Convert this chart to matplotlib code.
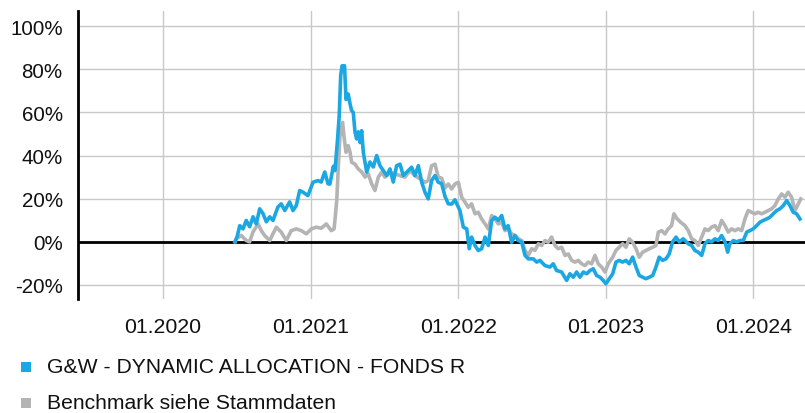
import matplotlib
matplotlib.use("Agg")
import matplotlib.pyplot as plt
from matplotlib.patches import Rectangle

plt.rcParams['font.family'] = ['Liberation Sans', 'DejaVu Sans']

fund_label = "G&W - DYNAMIC ALLOCATION - FONDS R"
bench_label = "Benchmark siehe Stammdaten"

# dates as decimal years, values in percent
fund_t = [2020.488, 2020.503, 2020.520, 2020.542, 2020.564, 2020.587, 2020.610, 2020.632, 2020.655, 2020.678,
          2020.700, 2020.723, 2020.745, 2020.779, 2020.801, 2020.825, 2020.858, 2020.881, 2020.903, 2020.926,
          2020.949, 2020.982, 2021.016, 2021.050, 2021.072, 2021.096, 2021.118, 2021.131, 2021.154, 2021.165,
          2021.181, 2021.194, 2021.204, 2021.213, 2021.230, 2021.240, 2021.255, 2021.267, 2021.278, 2021.289,
          2021.301, 2021.312, 2021.323, 2021.335, 2021.346, 2021.357, 2021.380, 2021.402, 2021.425, 2021.448,
          2021.470, 2021.493, 2021.516, 2021.538, 2021.560, 2021.583, 2021.606, 2021.628, 2021.651, 2021.685,
          2021.707, 2021.730, 2021.753, 2021.775, 2021.797, 2021.820, 2021.843, 2021.865, 2021.888, 2021.911,
          2021.933, 2021.956, 2021.978, 2022.012, 2022.035, 2022.058, 2022.075, 2022.091, 2022.114, 2022.136,
          2022.159, 2022.182, 2022.204, 2022.227, 2022.249, 2022.272, 2022.295, 2022.317, 2022.339, 2022.362,
          2022.385, 2022.407, 2022.430, 2022.453, 2022.475, 2022.509, 2022.532, 2022.554, 2022.588, 2022.622,
          2022.644, 2022.667, 2022.701, 2022.735, 2022.757, 2022.780, 2022.803, 2022.825, 2022.848, 2022.871,
          2022.893, 2022.915, 2022.938, 2022.961, 2022.983, 2023.001, 2023.024, 2023.047, 2023.069, 2023.091,
          2023.114, 2023.137, 2023.159, 2023.182, 2023.205, 2023.227, 2023.250, 2023.272, 2023.295, 2023.318,
          2023.340, 2023.362, 2023.385, 2023.408, 2023.430, 2023.453, 2023.476, 2023.498, 2023.525, 2023.559,
          2023.582, 2023.604, 2023.627, 2023.650, 2023.672, 2023.694, 2023.717, 2023.740, 2023.762, 2023.785,
          2023.808, 2023.826, 2023.841, 2023.864, 2023.887, 2023.909, 2023.932, 2023.955, 2023.977, 2023.999,
          2024.022, 2024.045, 2024.067, 2024.090, 2024.112, 2024.135, 2024.158, 2024.180, 2024.203, 2024.226,
          2024.248, 2024.270, 2024.293, 2024.316]
fund_v = [0.0, 2.6, 7.5, 6.0, 9.9, 7.0, 11.6, 8.3, 15.3, 13.0,
          9.3, 11.6, 9.9, 16.2, 17.6, 14.5, 18.5, 14.5, 16.8, 23.8,
          23.0, 21.4, 27.6, 28.4, 27.7, 32.4, 26.9, 26.8, 35.0, 33.0,
          46.0, 58.5, 77.0, 81.6, 81.6, 66.0, 68.5, 64.0, 60.8, 60.0,
          50.8, 47.7, 51.0, 46.0, 51.5, 41.6, 32.3, 37.0, 34.7, 40.0,
          35.3, 33.0, 30.7, 33.8, 27.7, 35.3, 36.0, 30.7, 32.3, 34.6,
          30.7, 35.3, 27.6, 23.0, 19.9, 28.4, 30.7, 27.6, 27.0, 21.0,
          17.6, 17.5, 19.5, 14.5, 6.8, 6.0, -3.2, 2.2, -1.7, -4.0,
          -3.2, 2.2, -1.7, 9.9, 11.4, 9.9, 12.2, 6.0, 7.5, -0.2,
          2.9, 0.6, 0.0, -6.3, -7.9, -7.9, -9.4, -8.6, -11.0, -11.7,
          -10.2, -13.3, -14.0, -17.9, -14.8, -16.4, -14.0, -16.4, -14.0, -14.8,
          -13.3, -12.5, -15.6, -16.4, -17.9, -19.4, -17.1, -14.8, -9.4, -8.6,
          -9.4, -8.6, -10.2, -7.1, -11.7, -15.6, -16.4, -17.1, -16.4, -15.6,
          -11.7, -7.1, -8.6, -7.9, -5.6, 0.0, 2.2, 0.0, 1.4, -0.9,
          -1.7, -4.0, -4.8, -6.3, -0.9, 0.6, 0.0, 1.4, 0.6, 2.9,
          0.0, -4.8, -0.9, 0.6, 0.0, 0.6, 0.6, 4.5, 5.2, 6.0,
          7.5, 9.1, 9.9, 10.6, 11.4, 13.0, 14.5, 15.3, 16.8, 19.1,
          16.8, 13.7, 13.0, 10.6]

bench_t = [2020.488, 2020.497, 2020.530, 2020.564, 2020.587, 2020.610, 2020.644, 2020.666, 2020.689, 2020.723,
           2020.745, 2020.768, 2020.801, 2020.835, 2020.869, 2020.903, 2020.937, 2020.971, 2021.005, 2021.039,
           2021.072, 2021.106, 2021.140, 2021.159, 2021.165, 2021.177, 2021.188, 2021.199, 2021.217, 2021.226,
           2021.240, 2021.255, 2021.267, 2021.278, 2021.301, 2021.323, 2021.346, 2021.369, 2021.391, 2021.414,
           2021.436, 2021.459, 2021.482, 2021.504, 2021.538, 2021.572, 2021.606, 2021.640, 2021.673, 2021.707,
           2021.741, 2021.775, 2021.797, 2021.820, 2021.843, 2021.865, 2021.888, 2021.911, 2021.933, 2021.956,
           2021.978, 2022.001, 2022.024, 2022.046, 2022.068, 2022.091, 2022.114, 2022.136, 2022.159, 2022.182,
           2022.204, 2022.227, 2022.249, 2022.272, 2022.295, 2022.317, 2022.339, 2022.362, 2022.385, 2022.407,
           2022.430, 2022.453, 2022.475, 2022.498, 2022.520, 2022.543, 2022.566, 2022.588, 2022.610, 2022.633,
           2022.656, 2022.678, 2022.701, 2022.724, 2022.746, 2022.769, 2022.791, 2022.814, 2022.837, 2022.859,
           2022.881, 2022.904, 2022.927, 2022.949, 2022.972, 2022.995, 2023.017, 2023.047, 2023.069, 2023.091,
           2023.114, 2023.137, 2023.159, 2023.182, 2023.205, 2023.227, 2023.250, 2023.272, 2023.295, 2023.318,
           2023.340, 2023.356, 2023.379, 2023.401, 2023.423, 2023.446, 2023.462, 2023.484, 2023.507, 2023.537,
           2023.559, 2023.582, 2023.604, 2023.627, 2023.650, 2023.672, 2023.694, 2023.717, 2023.740, 2023.762,
           2023.785, 2023.808, 2023.830, 2023.853, 2023.875, 2023.898, 2023.921, 2023.943, 2023.965, 2023.988,
           2024.011, 2024.033, 2024.056, 2024.079, 2024.101, 2024.124, 2024.146, 2024.169, 2024.192, 2024.214,
           2024.236, 2024.259, 2024.282, 2024.304, 2024.321]
bench_v = [0.0, 1.4, 3.0, 0.6, 0.0, 4.6, 8.3, 5.2, 2.9, 0.6,
           3.7, 6.8, 4.5, 0.6, 5.2, 6.0, 5.2, 3.7, 6.0, 6.8,
           6.3, 8.3, 5.2, 6.0, 10.0, 19.0, 35.0, 49.0, 55.4, 49.0,
           41.5, 44.6, 41.6, 36.9, 36.0, 33.8, 32.4, 30.0, 31.5, 26.8,
           23.8, 30.0, 32.3, 30.0, 32.3, 31.5, 30.7, 30.0, 33.0, 30.7,
           29.2, 27.6, 28.4, 35.3, 36.0, 30.0, 29.5, 25.0, 26.8, 24.5,
           26.8, 27.6, 20.7, 18.4, 16.0, 17.6, 13.0, 13.7, 10.6, 8.3,
           6.0, 12.2, 10.6, 8.3, 9.1, 5.2, 6.0, 3.7, 2.9, 1.4,
           0.6, -4.0, -6.3, -3.2, -4.0, -0.9, -1.7, 0.6, -0.2, 2.2,
           -1.7, -3.2, -2.5, -6.3, -5.6, -8.6, -9.4, -8.6, -10.2, -11.0,
           -9.4, -10.2, -6.3, -10.2, -11.7, -14.0, -10.2, -7.1, -4.0, -2.5,
           -0.9, -2.5, 1.4, -0.2, -3.2, -7.1, -4.8, -4.0, -3.2, -2.5,
           -1.7, 4.5, 5.2, 3.7, 6.0, 7.5, 13.0, 10.6, 9.1, 7.5,
           5.2, 1.4, 0.6, -1.7, 2.2, 6.0, 5.2, 6.8, 7.5, 5.2,
           9.9, 7.5, 4.5, 6.0, 5.2, 6.0, 5.2, 10.6, 14.5, 13.7,
           13.0, 13.7, 13.0, 13.7, 14.5, 15.3, 16.8, 19.9, 22.2, 20.7,
           23.0, 20.7, 14.5, 17.6, 19.9]

x_ticks = [2020, 2021, 2022, 2023, 2024]
x_tick_labels = ["01.2020", "01.2021", "01.2022", "01.2023", "01.2024"]
y_ticks = [-20, 0, 20, 40, 60, 80, 100]

BLUE = "#1ba7e2"
GRAY = "#b4b4b4"

W, H = 805, 414
fig = plt.figure(figsize=(W / 100, H / 100), dpi=100)
ax = fig.add_axes([78 / W, 1 - 300 / H, (W - 78) / W, 288 / H])

ax.set_xlim(2019.424, 2024.35)
ax.set_ylim(-26.5, 107)

ax.set_xticks(x_ticks)
ax.set_xticklabels(x_tick_labels)
ax.set_yticks(y_ticks)
ax.set_yticklabels([f"{v}%" for v in y_ticks])

ax.grid(True, color="#c8c8c8", linewidth=1.0)
ax.set_axisbelow(True)
for s in ["top", "right", "bottom"]:
    ax.spines[s].set_visible(False)
ax.spines["left"].set_linewidth(2.0)
ax.spines["left"].set_color("black")
ax.tick_params(axis="both", length=0, colors="#111111")
ax.tick_params(axis="y", pad=11, labelsize=14.8)
ax.tick_params(axis="x", pad=13, labelsize=15.3)

ax.axhline(0, color="black", linewidth=2.0, zorder=2)
ax.plot(bench_t, bench_v, color=GRAY, linewidth=2.6, zorder=3, solid_joinstyle="round")
ax.plot(fund_t, fund_v, color=BLUE, linewidth=2.6, zorder=4, solid_joinstyle="round")

# legend
sq = 10
for (cy, col, lab) in [(368, BLUE, fund_label), (404, GRAY, bench_label)]:
    fig.add_artist(Rectangle((21 / W, 1 - (cy + sq / 2) / H), sq / W, sq / H,
                             transform=fig.transFigure, color=col, linewidth=0))
    fig.text(47 / W, 1 - cy / H, lab, fontsize=15.2, va="center", ha="left", color="#111111")

fig.savefig("out.png", dpi=100)
